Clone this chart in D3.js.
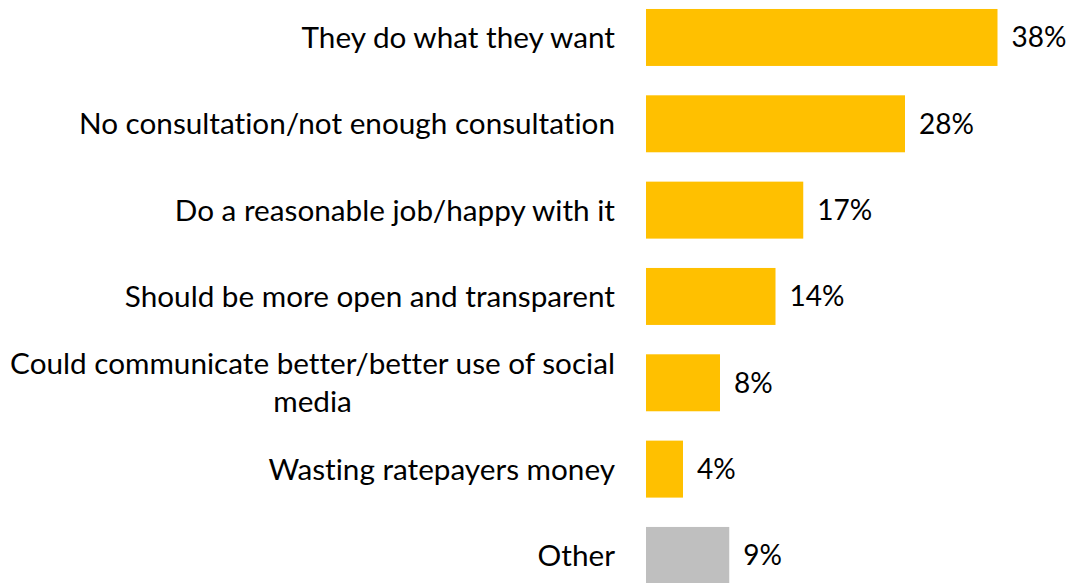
<!DOCTYPE html>
<html>
<head>
<meta charset="utf-8">
<script src="https://cdn.jsdelivr.net/npm/d3@7"></script>
<style>
  html, body { margin: 0; padding: 0; background: #fff; }
  svg { display: block; }
  text { font-variant-ligatures: none; font-feature-settings: "liga" 0, "clig" 0; }
</style>
</head>
<body>
<svg id="chart" width="1069" height="583"></svg>
<script>
const categories = [
  "They do what they want",
  "No consultation/not enough consultation",
  "Do a reasonable job/happy with it",
  "Should be more open and transparent",
  "Could communicate better/better use of social media",
  "Wasting ratepayers money",
  "Other"
];
const values = [38, 28, 17, 14, 8, 4, 9];
const valueLabels = ["38%", "28%", "17%", "14%", "8%", "4%", "9%"];
const labelLines = [
  ["They do what they want"],
  ["No consultation/not enough consultation"],
  ["Do a reasonable job/happy with it"],
  ["Should be more open and transparent"],
  ["Could communicate better/better use of social", "media"],
  ["Wasting ratepayers money"],
  ["Other"]
];
const barColors = ["#FFC000", "#FFC000", "#FFC000", "#FFC000", "#FFC000", "#FFC000", "#BFBFBF"];

const data = categories.map((c, i) => ({ cat: c, value: values[i], label: valueLabels[i], lines: labelLines[i], color: barColors[i] }));

const svg = d3.select("#chart");
const fontFamily = "Lato, 'Open Sans', sans-serif";
const fontSize = 29.7;
const valueFontSize = 28;

const x0 = 646;
const x = d3.scaleLinear().domain([0, 38]).range([x0, x0 + 38 * 9.25]);
const y = d3.scaleBand().domain(categories).range([-5.7, -5.7 + 7 * 86.33]).paddingInner(0.34).paddingOuter(0.17);

svg.selectAll("rect.bar").data(data).join("rect")
  .attr("class", "bar")
  .attr("x", x(0))
  .attr("y", d => y(d.cat))
  .attr("width", d => x(d.value) - x(0))
  .attr("height", y.bandwidth())
  .attr("fill", d => d.color);

svg.selectAll("text.val").data(data).join("text")
  .attr("class", "val")
  .attr("x", d => x(d.value) + 14)
  .attr("y", d => y(d.cat) + y.bandwidth() / 2)
  .attr("dy", "0.35em")
  .attr("font-family", fontFamily)
  .attr("font-size", valueFontSize)
  .attr("fill", "#000")
  .text(d => d.label);

const labelRight = 615;
const lineH = 38;
const g = svg.selectAll("g.cat").data(data).join("g").attr("class", "cat");
g.each(function(d) {
  const grp = d3.select(this);
  const n = d.lines.length;
  const cy = y(d.cat) + y.bandwidth() / 2;
  const texts = grp.selectAll("text").data(d.lines).join("text")
    .attr("font-family", fontFamily)
    .attr("font-size", fontSize)
    .attr("fill", "#000")
    .attr("y", (l, i) => cy + (i - (n - 1) / 2) * lineH)
    .attr("dy", "0.35em")
    .text(l => l);
  if (n === 1) {
    texts.attr("x", labelRight).attr("text-anchor", "end");
  } else {
    const widths = [];
    texts.each(function() { widths.push(this.getComputedTextLength()); });
    const maxW = d3.max(widths);
    const center = labelRight - maxW / 2;
    texts.attr("x", center).attr("text-anchor", "middle");
  }
});
</script>
</body>
</html>
